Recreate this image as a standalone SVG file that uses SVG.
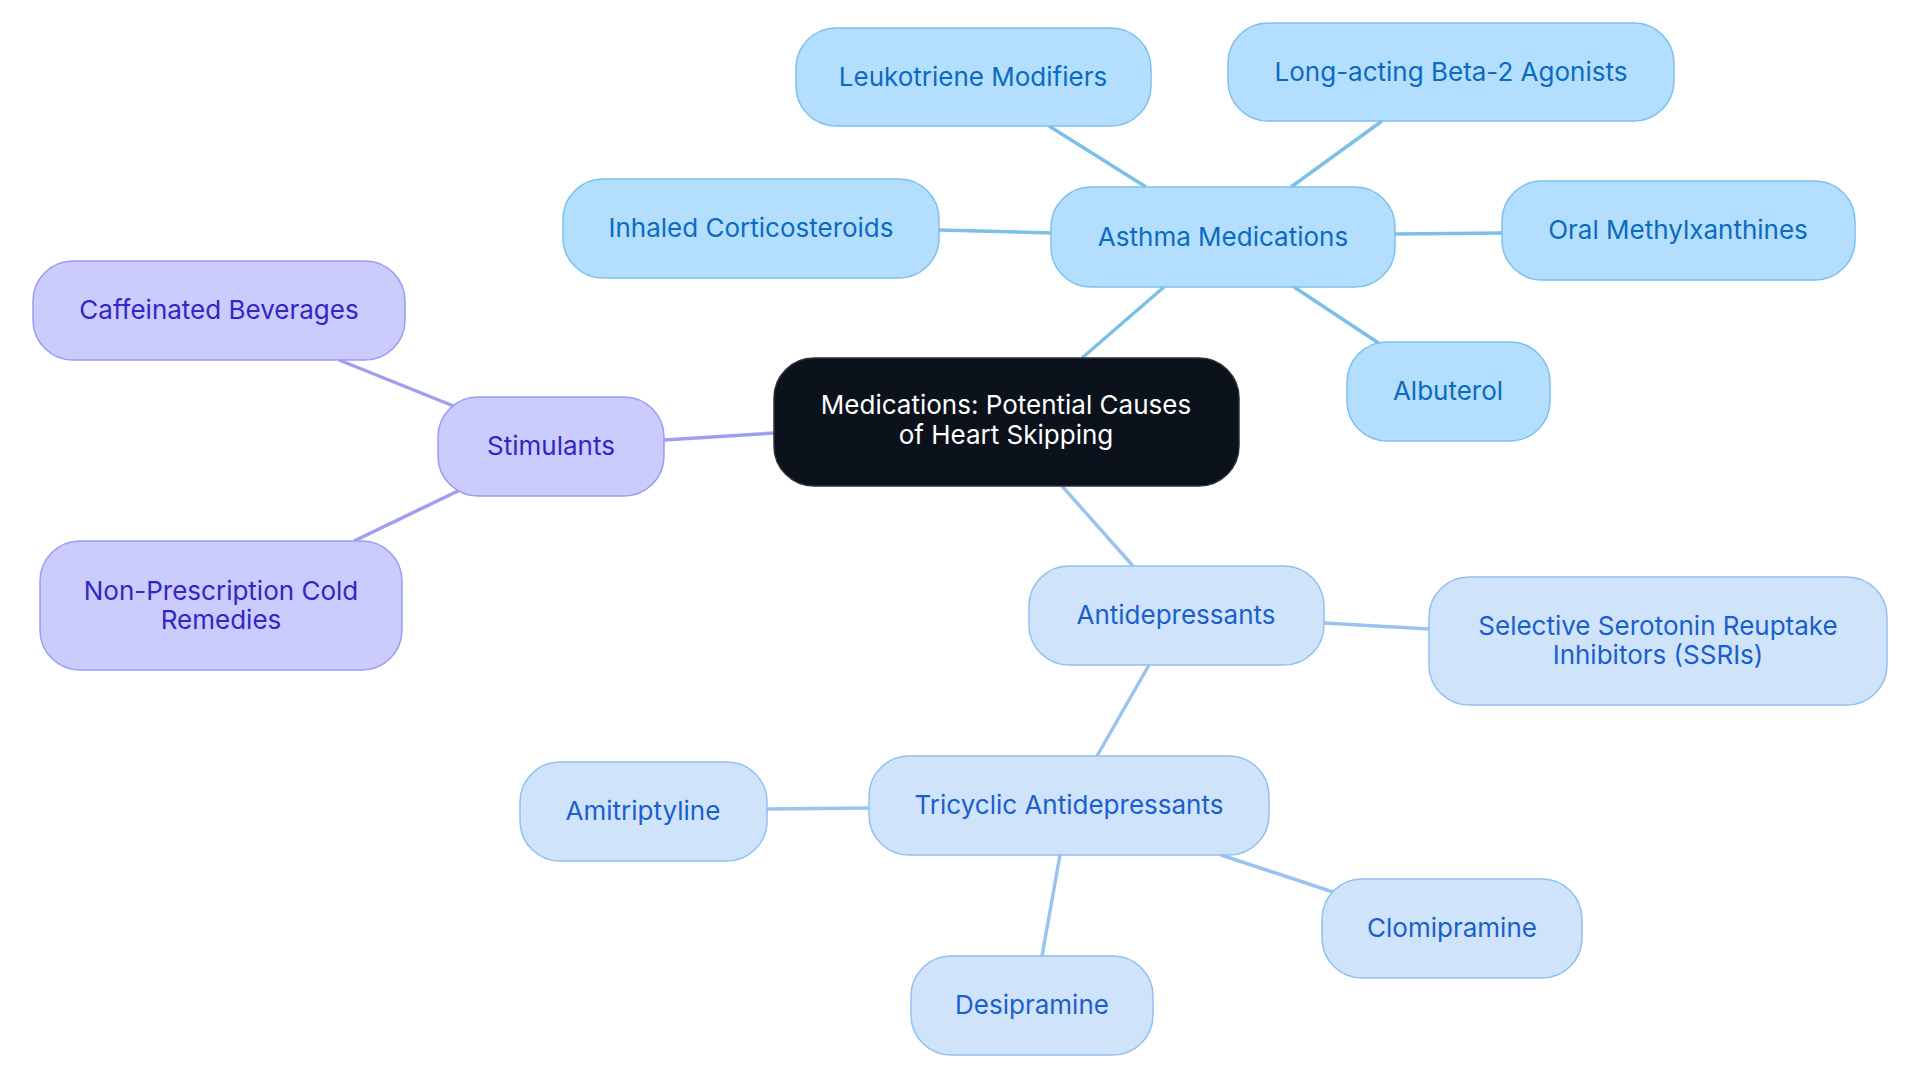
<svg xmlns="http://www.w3.org/2000/svg" width="1920" height="1083" viewBox="0 0 1920 1083">
<style>
text{font-family:Inter,"Noto Sans",sans-serif;font-size:26px;text-anchor:middle;dominant-baseline:central}
.a rect{fill:#b3defd;stroke:#7dc0ee;stroke-width:1.5}.a text{fill:#0b6bc0}
.d rect{fill:#cfe3fb;stroke:#93bff0;stroke-width:1.5}.d text{fill:#1a5fcc}
.s rect{fill:#cbcbfd;stroke:#9a9cf0;stroke-width:1.5}.s text{fill:#3226c4}
.c rect{fill:#0b121c;stroke:#2a3038;stroke-width:1.5}.c text{fill:#fff}
#edges line{stroke-width:3.5}
.ea{stroke:#7cbfe9}.ed{stroke:#9ac4f0}.es{stroke:#a09ef0}
</style>
<rect width="1920" height="1083" fill="#fff"/>
<g id="edges">
<line class="ea" x1="1082" y1="358" x2="1164" y2="287"/>
<line class="ea" x1="1146" y1="187" x2="1049" y2="126"/>
<line class="ea" x1="1291" y1="187" x2="1382" y2="121"/>
<line class="ea" x1="1051" y1="233" x2="939" y2="230"/>
<line class="ea" x1="1395" y1="234" x2="1502" y2="233"/>
<line class="ea" x1="1294" y1="287" x2="1380" y2="344"/>
<line class="es" x1="774" y1="433" x2="664" y2="440"/>
<line class="es" x1="456" y1="407" x2="339" y2="360"/>
<line class="es" x1="460" y1="490" x2="354" y2="541"/>
<line class="ed" x1="1062" y1="486" x2="1133" y2="566"/>
<line class="ed" x1="1324" y1="623" x2="1429" y2="629"/>
<line class="ed" x1="1149" y1="665" x2="1097" y2="756"/>
<line class="ed" x1="869" y1="808" x2="767" y2="809"/>
<line class="ed" x1="1221" y1="855" x2="1336" y2="893"/>
<line class="ed" x1="1060" y1="855" x2="1042" y2="956"/>
</g>
<g id="center" class="c"><rect x="774" y="358" width="465" height="128" rx="40"/><text x="1006" y="404">Medications: Potential Causes</text><text x="1006" y="434">of Heart Skipping</text></g>
<g id="asthma" class="a"><rect x="1051" y="187" width="344" height="100" rx="40"/><text x="1223" y="236">Asthma Medications</text></g>
<g id="leuko" class="a"><rect x="796" y="28" width="355" height="98" rx="40"/><text x="973" y="76">Leukotriene Modifiers</text></g>
<g id="laba" class="a"><rect x="1228" y="23" width="446" height="98" rx="40"/><text x="1451" y="71">Long-acting Beta-2 Agonists</text></g>
<g id="inhaled" class="a"><rect x="563" y="179" width="376" height="99" rx="40"/><text x="751" y="227">Inhaled Corticosteroids</text></g>
<g id="oral" class="a"><rect x="1502" y="181" width="353" height="99" rx="40"/><text x="1678" y="229">Oral Methylxanthines</text></g>
<g id="albuterol" class="a"><rect x="1347" y="342" width="203" height="99" rx="40"/><text x="1448" y="390">Albuterol</text></g>
<g id="stimulants" class="s"><rect x="438" y="397" width="226" height="99" rx="40"/><text x="551" y="445">Stimulants</text></g>
<g id="caffeine" class="s"><rect x="33" y="261" width="372" height="99" rx="40"/><text x="219" y="309">Caffeinated Beverages</text></g>
<g id="cold" class="s"><rect x="40" y="541" width="362" height="129" rx="40"/><text x="221" y="590">Non-Prescription Cold</text><text x="221" y="619">Remedies</text></g>
<g id="antidep" class="d"><rect x="1029" y="566" width="295" height="99" rx="40"/><text x="1176" y="614">Antidepressants</text></g>
<g id="ssri" class="d"><rect x="1429" y="577" width="458" height="128" rx="40"/><text x="1658" y="625">Selective Serotonin Reuptake</text><text x="1658" y="654">Inhibitors (SSRIs)</text></g>
<g id="tricyclic" class="d"><rect x="869" y="756" width="400" height="99" rx="40"/><text x="1069" y="804">Tricyclic Antidepressants</text></g>
<g id="amitriptyline" class="d"><rect x="520" y="762" width="247" height="99" rx="40"/><text x="643" y="810">Amitriptyline</text></g>
<g id="clomipramine" class="d"><rect x="1322" y="879" width="260" height="99" rx="40"/><text x="1452" y="927">Clomipramine</text></g>
<g id="desipramine" class="d"><rect x="911" y="956" width="242" height="99" rx="40"/><text x="1032" y="1004">Desipramine</text></g>
</svg>
